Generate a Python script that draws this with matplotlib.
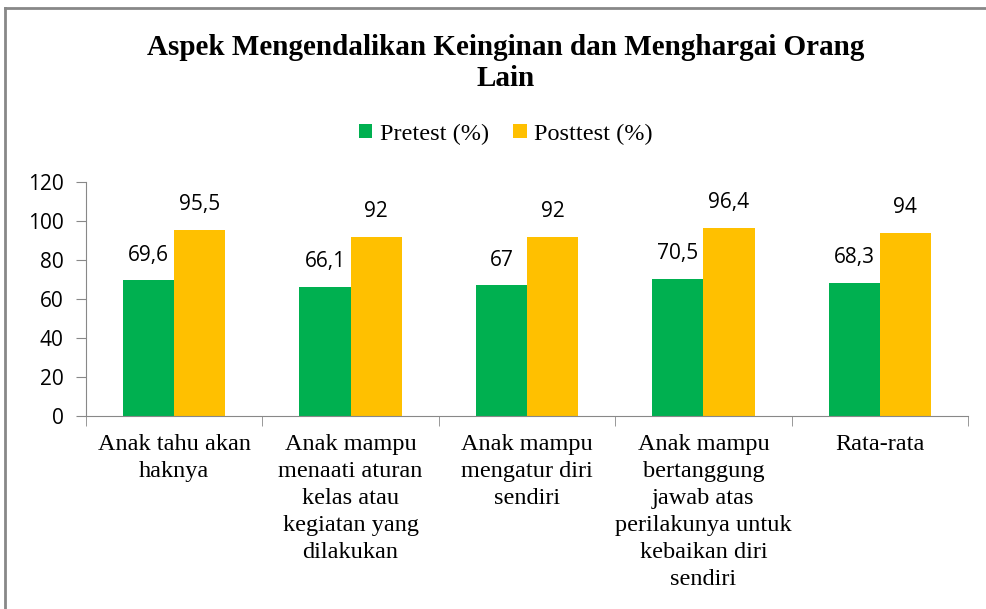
import numpy as np
import matplotlib.pyplot as plt
from matplotlib.lines import Line2D

# data
categories = ['Anak tahu akan\nhaknya',
              'Anak mampu\nmenaati aturan\nkelas atau\nkegiatan yang\ndilakukan',
              'Anak mampu\nmengatur diri\nsendiri',
              'Anak mampu\nbertanggung\njawab atas\nperilakunya untuk\nkebaikan diri\nsendiri',
              'Rata-rata']
pretest = [69.6, 66.1, 67, 70.5, 68.3]
posttest = [95.5, 92, 92, 96.4, 94]
pre_labels = ['69,6', '66,1', '67', '70,5', '68,3']
post_labels = ['95,5', '92', '92', '96,4', '94']

serif = 'Liberation Serif'
sans = 'Open Sans'

fig = plt.figure(figsize=(9.86, 6.09), dpi=100)
ax = fig.add_axes([86 / 986, 1 - 416 / 609, (968 - 86) / 986, (416 - 182) / 609])

x = np.arange(len(categories))
w = 0.29
b1 = ax.bar(x - w / 2, pretest, w, color='#00B050', label='Pretest (%)')
b2 = ax.bar(x + w / 2, posttest, w, color='#FFC000', label='Posttest (%)')

for bars, labs in [(b1, pre_labels), (b2, post_labels)]:
    for r, t in zip(bars, labs):
        ax.text(r.get_x() + r.get_width() / 2, r.get_height() + 7.5, t,
                ha='center', va='bottom', fontsize=15, family=sans)

ax.set_xlim(-0.5, len(categories) - 0.5)
ax.set_ylim(0, 120)
ax.set_yticks(range(0, 121, 20))
ax.tick_params(axis='y', labelsize=15, length=7, color='#888888', pad=9)
for lab in ax.get_yticklabels():
    lab.set_family(sans)

ax.set_xticks(x)
ax.set_xticklabels(categories, fontsize=17.5, family=serif, linespacing=1.38, va='top')
ax.tick_params(axis='x', length=0, pad=13)
ax.set_xticks(np.arange(-0.5, len(categories)), minor=True)
ax.tick_params(axis='x', which='minor', length=7, color='#888888')

for s in ['top', 'right']:
    ax.spines[s].set_visible(False)
ax.spines['left'].set_color('#888888')
ax.spines['bottom'].set_color('#888888')

fig.text(0.513, 1 - 63 / 609, 'Aspek Mengendalikan Keinginan dan Menghargai Orang\nLain',
         ha='center', va='center', fontsize=21, fontweight='bold', family=serif,
         linespacing=1.2)

leg = fig.legend(handles=[b1, b2], loc='center', bbox_to_anchor=(0.513, 1 - 134 / 609),
                 ncol=2, frameon=False, prop={'family': serif, 'size': 17.5},
                 handlelength=0.55, handleheight=0.55, columnspacing=1.0, handletextpad=0.3)

# chart frame (left and top edges visible)
fig.add_artist(Line2D([5 / 986, 5 / 986], [0, 1 - 8 / 609], color='#888888', lw=2))
fig.add_artist(Line2D([5 / 986, 1], [1 - 8 / 609, 1 - 8 / 609], color='#888888', lw=2))

fig.savefig('out.png', dpi=100)
